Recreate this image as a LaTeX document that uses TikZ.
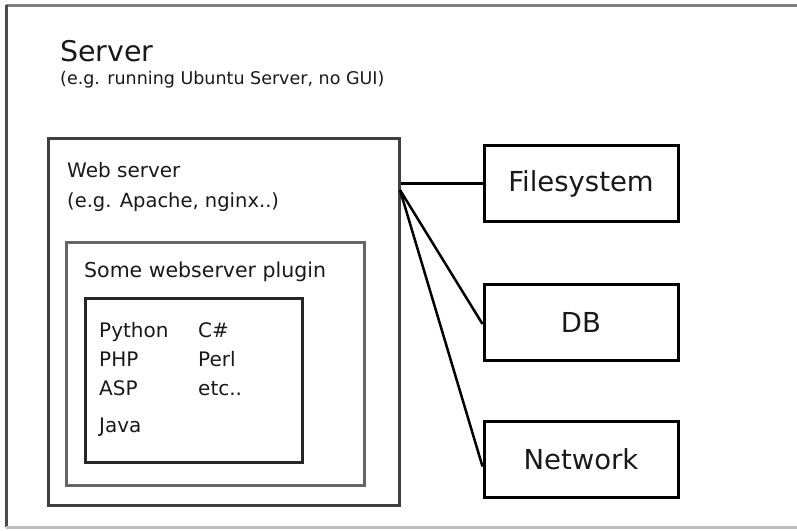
\documentclass[tikz,border=0pt]{standalone}
\usepackage{fontspec}
\setmainfont{DejaVu Sans}
\begin{document}
\begin{tikzpicture}[x=1pt,y=-1pt,
  txt/.style={inner sep=0pt, anchor=base west, text=black!90},
  sidebox/.style={draw=black, line width=3pt, minimum width=194pt, minimum height=76pt, inner sep=0pt, font=\fontsize{27.5}{30}\selectfont, text=black!90},
  lang/.style={txt, font=\fontsize{20}{22}\selectfont},
  conn/.style={draw=black, line width=2.5pt}
]
\useasboundingbox (0,0) rectangle (797,530);
% outer frame (open on the right)
\draw[gray, line width=3pt] (797,5) -- (6,5);
\draw[black!70, line width=3pt] (6,5) -- (6,527);
\draw[black!25, line width=3pt] (6,527) -- (797,527);

\node[txt, font=\fontsize{28.5}{32}\selectfont] (srv) at (60,61) {Server};
\node[txt, font=\fontsize{17.5}{19}\selectfont] (srvsub) at (60,84) {(e.g. running Ubuntu Server, no GUI)};

% web server box
\node[draw=black!75, line width=3pt, minimum width=351pt, minimum height=367pt, inner sep=0pt] (ws) at (223.5,321.5) {};
\node[txt, font=\fontsize{20}{22}\selectfont] (wst) at (67,177) {Web server};
\node[txt, font=\fontsize{19.5}{22}\selectfont] (wss) at (67,207) {(e.g. Apache, nginx..)};

% plugin box
\node[draw=black!60, line width=3pt, minimum width=298pt, minimum height=243pt, inner sep=0pt] (pl) at (215,363.5) {};
\node[txt, font=\fontsize{20.5}{22}\selectfont] (plt) at (84,277) {Some webserver plugin};

% languages box
\node[draw=black!85, line width=3pt, minimum width=217pt, minimum height=164pt, inner sep=0pt] (lg) at (193.5,380) {};
\node[lang] (py) at (99,337) {Python};
\node[lang] (php) at (99,366) {PHP};
\node[lang] (asp) at (99,395) {ASP};
\node[lang] (java) at (99,432) {Java};
\node[lang] (cs) at (198,337) {C\#};
\node[lang] (perl) at (198,366) {Perl};
\node[lang] (etc) at (198,395) {etc..};

% resource boxes
\node[sidebox] (fs) at (581,183.5) {Filesystem};
\node[sidebox] (db) at (581,322) {DB};
\node[sidebox] (net) at (581,459.5) {Network};

% connectors
\coordinate (hub) at (400,190);
\draw[conn] (ws.east |- fs.west) -- (fs.west);
\draw[conn] (hub) -- ([yshift=-2pt]db.west);
\draw[conn] (hub) -- ([yshift=-7pt]net.west);
\end{tikzpicture}
\end{document}
